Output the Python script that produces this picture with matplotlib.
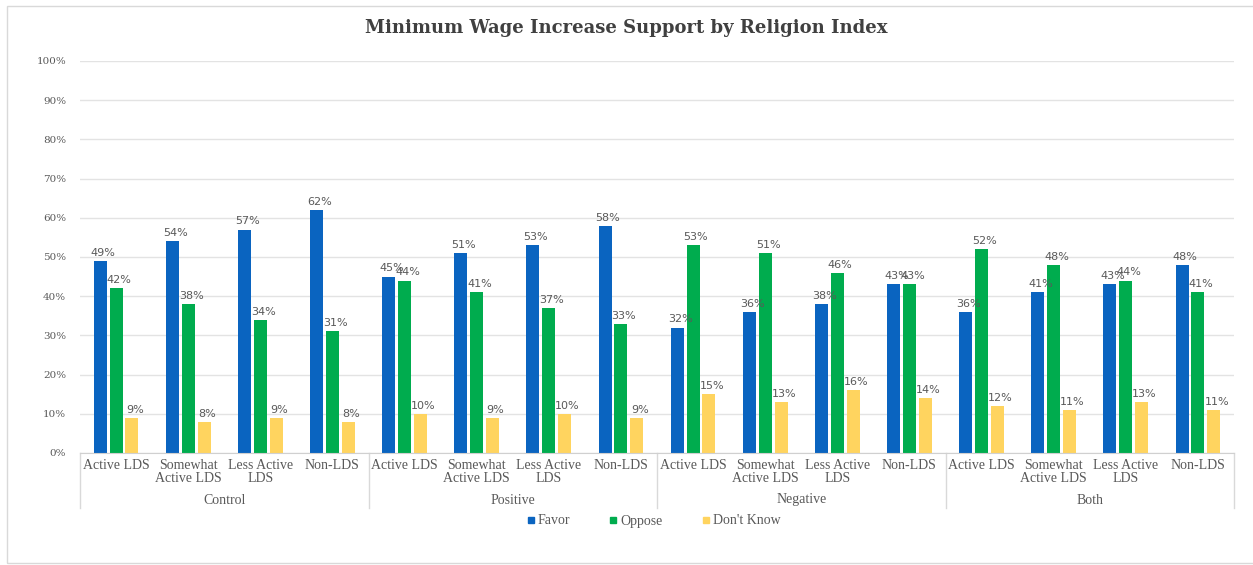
import matplotlib.pyplot as plt
import matplotlib.transforms as mtransforms
from matplotlib.lines import Line2D
from matplotlib.patches import Rectangle

groups = ["Control", "Positive", "Negative", "Both"]
categories = ["Active LDS", "Somewhat\nActive LDS", "Less Active\nLDS", "Non-LDS"]

favor = [49, 54, 57, 62, 45, 51, 53, 58, 32, 36, 38, 43, 36, 41, 43, 48]
oppose = [42, 38, 34, 31, 44, 41, 37, 33, 53, 51, 46, 43, 52, 48, 44, 41]
dont_know = [9, 8, 9, 8, 10, 9, 10, 9, 15, 13, 16, 14, 12, 11, 13, 11]

series = [
    ("Favor", favor, "#0a64c0"),
    ("Oppose", oppose, "#00ac4e"),
    ("Don't Know", dont_know, "#ffd45f"),
]

W, H = 1253, 565
fig = plt.figure(figsize=(W / 100, H / 100), dpi=100)
ax = fig.add_axes([80 / W, 1 - 453 / H, (1234 - 80) / W, (453 - 61) / H])

# outer chart border
fig.patches.append(Rectangle((7 / W, 1 - 563 / H), 1.2, (563 - 6) / H,
                             transform=fig.transFigure, fill=False,
                             edgecolor="#d9d9d9", lw=1.0))

n = len(favor)
bw = 0.18
step = 0.22
xs = list(range(n))
for k, (name, vals, color) in enumerate(series):
    off = (k - 1) * step
    pos = [x + off for x in xs]
    ax.bar(pos, vals, width=bw, color=color, zorder=2)
    for p, v in zip(pos, vals):
        ax.text(p + 0.04, v + 0.8, f"{v}%", ha="center", va="bottom",
                fontsize=8, color="#595959", family="DejaVu Sans", zorder=3)

ax.set_xlim(-0.5, n - 0.5)
ax.set_ylim(0, 100)
ax.set_yticks(range(0, 101, 10))
ax.set_yticklabels([f"{t}%" for t in range(0, 101, 10)],
                   fontsize=7.5, color="#595959", family="DejaVu Serif")
ax.tick_params(axis="y", length=0, pad=10)
ax.grid(axis="y", color="#e3e3e3", lw=1.0, zorder=0)
for s in ["top", "right", "left"]:
    ax.spines[s].set_visible(False)
ax.spines["bottom"].set_color("#d0d0d0")
ax.set_xticks([])

# two-level category axis
trans = mtransforms.blended_transform_factory(ax.transData, ax.transAxes)
px = 1.0 / (453 - 61)
for i in xs:
    ax.text(i, -6 * px, categories[i % 4], transform=trans, ha="center",
            va="top", fontsize=10, color="#595959", family="Liberation Serif",
            linespacing=1.0)
for g, name in enumerate(groups):
    ax.text(g * 4 + 1.5, -47 * px, name, transform=trans, ha="center",
            va="center", fontsize=10, color="#595959", family="Liberation Serif")
for b in range(len(groups) + 1):
    ax.add_line(Line2D([b * 4 - 0.5] * 2, [0, -55 * px], transform=trans,
                       color="#d9d9d9", lw=1.0, clip_on=False))

fig.text(0.5, 1 - 28 / H, "Minimum Wage Increase Support by Religion Index",
         ha="center", va="center", fontsize=13, fontweight="bold",
         color="#404040", family="DejaVu Serif")

handles = [Line2D([], [], marker="s", ls="none", markersize=4.5,
                  markerfacecolor=c, markeredgecolor=c) for _, _, c in series]
leg = fig.legend(handles, [s[0] for s in series], loc="center",
                 bbox_to_anchor=(652 / W, 1 - 521 / H), ncol=3, frameon=False,
                 handletextpad=0.0, columnspacing=2.6, handlelength=1.0,
                 prop={"family": "Liberation Serif", "size": 10})
for t in leg.get_texts():
    t.set_color("#595959")

fig.savefig("out.png", dpi=100)
